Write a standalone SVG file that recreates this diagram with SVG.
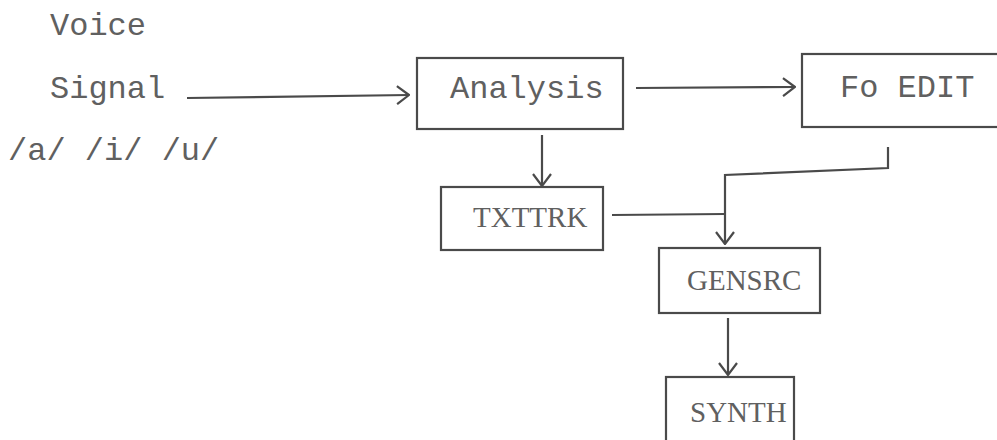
<svg xmlns="http://www.w3.org/2000/svg" width="997" height="440" viewBox="0 0 997 440">
<style>
.box{fill:none;stroke:#4a4a4a;stroke-width:2.2}
.ln{fill:none;stroke:#4a4a4a;stroke-width:2.2}
.t{font-family:"Liberation Mono","Courier New",monospace;font-size:32px;fill:#606060}
.s{font-family:"Liberation Serif","Times New Roman",serif;font-size:29px;fill:#606060}
</style>
<defs>
<marker id="ah" viewBox="0 0 14 20" refX="13" refY="10" markerWidth="14" markerHeight="20" markerUnits="userSpaceOnUse" orient="auto">
<path d="M1,1 L13,10 L1,19" fill="none" stroke="#4a4a4a" stroke-width="2.2"/>
</marker>
</defs>
<rect width="997" height="440" fill="#ffffff"/>
<g id="input">
<text class="t" x="50" y="35">Voice</text>
<text class="t" x="50" y="98">Signal</text>
<text class="t" x="8" y="160">/a/ /i/ /u/</text>
</g>
<g id="analysis">
<rect class="box" x="417" y="58" width="206" height="71"/>
<text class="t" x="450" y="98">Analysis</text>
</g>
<g id="foedit">
<rect class="box" x="802" y="54" width="210" height="73"/>
<text class="t" x="840" y="97">Fo EDIT</text>
</g>
<g id="txttrk">
<rect class="box" x="441" y="187" width="162" height="63"/>
<text class="s" x="473" y="227">TXTTRK</text>
</g>
<g id="gensrc">
<rect class="box" x="659" y="248" width="161" height="65"/>
<text class="s" x="687" y="290">GENSRC</text>
</g>
<g id="synth">
<rect class="box" x="666" y="377" width="128" height="80"/>
<text class="s" x="690" y="422">SYNTH</text>
</g>
<g id="connectors">
<path class="ln" d="M187,98 L409,95" marker-end="url(#ah)"/>
<path class="ln" d="M636,88 L795,87" marker-end="url(#ah)"/>
<path class="ln" d="M542,135 L542,186" marker-end="url(#ah)"/>
<path class="ln" d="M888,147 L888,168 L725,175 L725,244" marker-end="url(#ah)"/>
<path class="ln" d="M612,215 L725,214"/>
<path class="ln" d="M728,318 L728,375" marker-end="url(#ah)"/>
</g>
</svg>
